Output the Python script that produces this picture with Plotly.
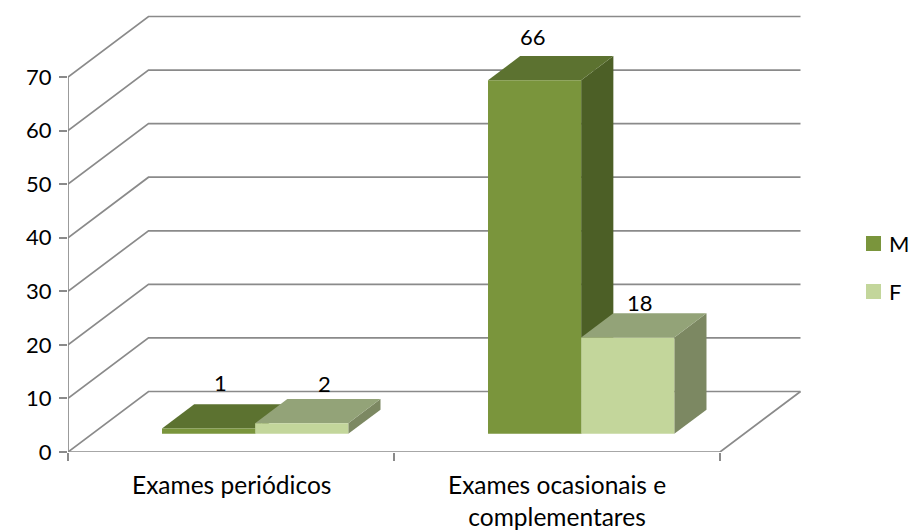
"""Clustered 3D-look column chart drawn on flat axes."""

import plotly.graph_objects as go

CATEGORIES = ["Exames periódicos", "Exames ocasionais e<br>complementares"]
SERIES_NAMES = ["M", "F"]
VALUES_M = [1, 66]
VALUES_F = [2, 18]
Y_TICKS = [0, 10, 20, 30, 40, 50, 60, 70]

# side, top and front colours per series
COLORS = {
    "M": ("#4C5F26", "#5C7230", "#7A953C"),
    "F": ("#7C8862", "#93A378", "#C3D69B"),
}
GRID = "#8A8A8A"

# plot area in page pixels
LEFT, RIGHT, TOP, BOTTOM = 68, 802, 15, 452

# oblique projection: full depth moves 80 px right and 60 px up
PX_PER_CAT = 326
PX_PER_UNIT = 5.357
DX = 80.5 / PX_PER_CAT
DY = 60.5 / PX_PER_UNIT
BAR_W = 1 / 3.5
BAR_D0, BAR_D1 = 0.3, 0.7

# label offsets from the bar's top centre, in px
LABEL_SHIFTS = {"M": [(-20, 22), (-34, 20)], "F": [(-9, 15), (-20, 11)]}


def proj(x, y, d=0.0):
    return x + d * DX, y + d * DY


def paper_x(px):
    return (px - LEFT) / (RIGHT - LEFT)


def paper_y(px):
    return (BOTTOM - px) / (BOTTOM - TOP)


def poly(points, color):
    xs, ys = zip(*(points + points[:1]))
    return go.Scatter(
        x=xs, y=ys, mode="lines", fill="toself", fillcolor=color,
        line=dict(width=0, color=color), hoverinfo="skip", showlegend=False,
    )


def add_bar(fig, x0, value, colors):
    x1 = x0 + BAR_W
    side, top, front = colors
    fig.add_trace(poly([proj(x1, 0, BAR_D0), proj(x1, 0, BAR_D1), proj(x1, value, BAR_D1), proj(x1, value, BAR_D0)], side))
    fig.add_trace(poly([proj(x0, value, BAR_D0), proj(x0, value, BAR_D1), proj(x1, value, BAR_D1), proj(x1, value, BAR_D0)], top))
    fig.add_trace(poly([proj(x0, 0, BAR_D0), proj(x1, 0, BAR_D0), proj(x1, value, BAR_D0), proj(x0, value, BAR_D0)], front))


def line(xs, ys):
    return go.Scatter(x=xs, y=ys, mode="lines", line=dict(color=GRID, width=1.7), hoverinfo="skip", showlegend=False)


fig = go.Figure()

# walls and floor
for v in Y_TICKS:
    bx, by = proj(0, v, 1)
    ex, _ = proj(2, v, 1)
    fig.add_trace(line([0, bx, ex], [v, by, by]))
fig.add_trace(line([0, 0], [0, Y_TICKS[-1]]))
fig.add_trace(line([0, 2, proj(2, 0, 1)[0]], [0, 0, proj(2, 0, 1)[1]]))

annotations = []
gap = (1 - 2 * BAR_W) / 2
for i in range(len(CATEGORIES)):
    for j, (name, vals) in enumerate((("M", VALUES_M), ("F", VALUES_F))):
        x0 = i + gap + j * BAR_W
        add_bar(fig, x0, vals[i], COLORS[name])
        lx, ly = proj(x0 + BAR_W / 2, vals[i], BAR_D1)
        sx, sy = LABEL_SHIFTS[name][i]
        annotations.append(dict(
            x=lx, y=ly, text=str(vals[i]), showarrow=False, xshift=sx, yshift=sy,
            font=dict(size=22, color="black"),
        ))

for i, cat in enumerate(CATEGORIES):
    annotations.append(dict(
        x=i + 0.5, y=paper_y(468), xref="x", yref="paper", yanchor="top",
        text=cat, showarrow=False, font=dict(size=24.5, color="black"),
    ))

# legend, placed by hand because its key sits closer to the text than plotly allows
shapes = []
for name, top_px in zip(SERIES_NAMES, (236, 284)):
    shapes.append(dict(
        type="rect", xref="paper", yref="paper", layer="above",
        x0=paper_x(866), x1=paper_x(881), y0=paper_y(top_px), y1=paper_y(top_px + 15),
        fillcolor=COLORS[name][2], line_width=0,
    ))
    annotations.append(dict(
        x=paper_x(887), y=paper_y(top_px + 7.5), xref="paper", yref="paper",
        xanchor="left", yanchor="middle", text=name, showarrow=False,
        font=dict(size=22, color="black"),
    ))

fig.update_layout(
    width=913,
    height=531,
    margin=dict(l=LEFT, r=913 - RIGHT, t=TOP, b=531 - BOTTOM, autoexpand=False),
    paper_bgcolor="white",
    plot_bgcolor="white",
    font=dict(family="Lato", size=22, color="black"),
    annotations=annotations,
    shapes=shapes,
    showlegend=False,
)
fig.update_xaxes(
    range=[0, (RIGHT - LEFT) / PX_PER_CAT],
    tickvals=[0, 1, 2],
    showticklabels=False,
    ticks="outside", ticklen=8, tickwidth=1.5, tickcolor=GRID,
    showgrid=False, zeroline=False, showline=False,
)
fig.update_yaxes(
    range=[0, (BOTTOM - TOP) / PX_PER_UNIT],
    tickvals=Y_TICKS,
    ticks="outside", ticklen=8, tickwidth=1.5, tickcolor=GRID,
    ticklabelstandoff=3,
    showgrid=False, zeroline=False, showline=False,
)

fig.write_html(
    "out.html",
    config={"displayModeBar": False},
    post_script="document.body.style.margin='0';",
)
